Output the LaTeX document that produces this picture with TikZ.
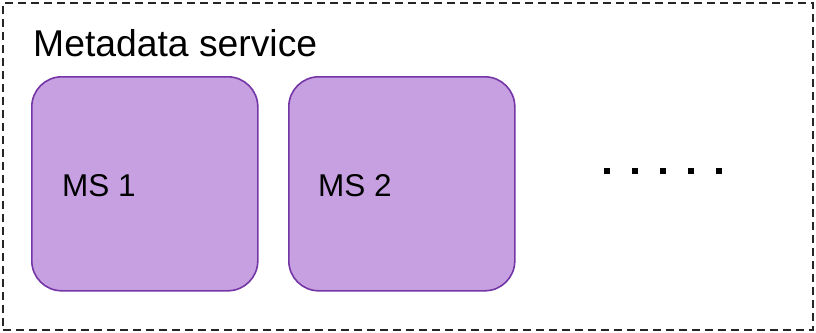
\documentclass[tikz,border=0pt]{standalone}
\usepackage{fontspec}
\setmainfont{Liberation Sans}
\definecolor{msfill}{HTML}{C7A0E1}
\definecolor{msedge}{HTML}{7436A6}
\begin{document}
\begin{tikzpicture}[x=1pt,y=-1pt,
  msbox/.style={draw=msedge, fill=msfill, line width=1.6pt, rounded corners=30pt,
    minimum width=226pt, minimum height=214pt, inner sep=0pt, anchor=north west},
  mslabel/.style={font=\fontsize{31.5}{36}\selectfont, anchor=base west, inner sep=0pt},
  dotmark/.style={fill=black, minimum size=6.5pt, inner sep=0pt},
  group/.style={draw=black!85, line width=1.8pt, dash pattern=on 8pt off 5pt}]
  \useasboundingbox (0,0) rectangle (816,332);
  % service frame
  \node[group, minimum width=810pt, minimum height=327pt, anchor=north west, inner sep=0pt] (frame) at (2,2) {};
  \node[font=\fontsize{37.3}{42}\selectfont, anchor=base west, inner sep=0pt] (title) at (33,56) {Metadata service};
  % metadata server instances
  \node[msbox] (ms1) at (31,76) {};
  \node[msbox] (ms2) at (288,76) {};
  \node[mslabel] (l1) at (62,196) {MS 1};
  \node[mslabel] (l2) at (318,196) {MS 2};
  % ellipsis
  \foreach \i/\x in {1/607,2/635,3/663,4/691,5/719}
    \node[dotmark] (d\i) at (\x,171) {};
\end{tikzpicture}
\end{document}
